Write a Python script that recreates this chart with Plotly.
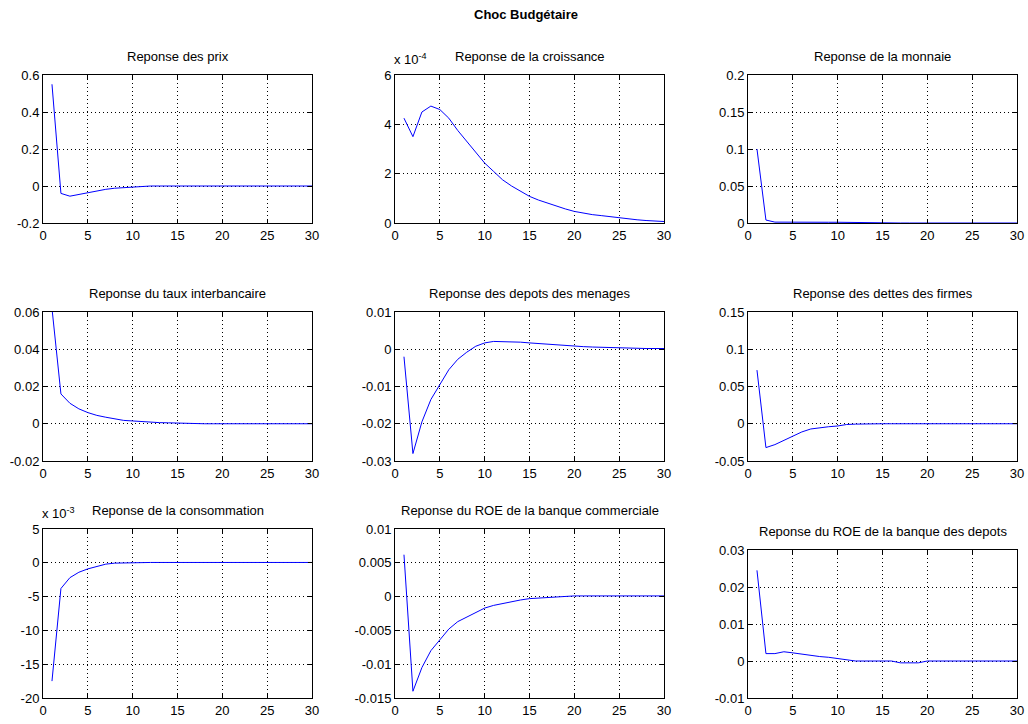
import plotly.graph_objects as go

W, H = 1028, 724

periods = list(range(1, 31))

prix = [0.55, -0.04, -0.055, -0.045, -0.035, -0.026, -0.018, -0.012, -0.008, -0.004,
        -0.001, 0, 0, 0, 0, 0, 0, 0, 0, 0, 0, 0, 0, 0, 0, 0, 0, 0, 0, 0]
croissance_e4 = [4.25, 3.5, 4.5, 4.74, 4.6, 4.25, 3.75, 3.3, 2.86, 2.43,
                 2.09, 1.75, 1.5, 1.28, 1.08, 0.93, 0.8, 0.68, 0.57, 0.47,
                 0.4, 0.34, 0.3, 0.25, 0.21, 0.17, 0.13, 0.1, 0.08, 0.06]
monnaie = [0.1, 0.004, 0.0012, 0.001, 0.001, 0.001, 0.001, 0.001, 0.001, 0.001,
           0.0008, 0.0005, 0, 0, 0, 0, 0, 0, 0, 0, 0, 0, 0, 0, 0, 0, 0, 0, 0, 0]
taux = [0.062, 0.016, 0.011, 0.008, 0.006, 0.0045, 0.0035, 0.0025, 0.0018, 0.0015,
        0.0011, 0.0009, 0.0006, 0.0005, 0.0003, 0, 0, 0, 0, 0, 0, 0, 0, 0, 0, 0, 0, 0, 0, 0]
depots_menages = [-0.002, -0.028, -0.0195, -0.0135, -0.0095, -0.0055, -0.0027, -0.0008, 0.0008, 0.0017,
                  0.0021, 0.0021, 0.002, 0.0019, 0.0017, 0.0015, 0.0013, 0.0011, 0.001, 0.0008,
                  0.0007, 0.0006, 0.0005, 0.0004, 0.0003, 0.0002, 0.0002, 0.0002, 0.0002, 0.0002]
dettes_firmes = [0.072, -0.032, -0.028, -0.022, -0.016, -0.011, -0.007, -0.005, -0.004, -0.003,
                 -0.001, -0.0005, 0, 0, 0, 0, 0, 0, 0, 0, 0, 0, 0, 0, 0, 0, 0, 0, 0, 0]
consommation_e3 = [-17.5, -3.8, -2.2, -1.4, -0.9, -0.5, -0.2, -0.05, 0, 0.05,
                   0.05, 0.05, 0.05, 0.05, 0.05, 0.05, 0.05, 0.05, 0.05, 0.05,
                   0.05, 0.05, 0.05, 0.05, 0.05, 0.05, 0.05, 0.05, 0.05, 0.05]
roe_commerciale = [0.0062, -0.014, -0.0105, -0.008, -0.0064, -0.0048, -0.0037, -0.003, -0.0023, -0.0017,
                   -0.0013, -0.001, -0.0007, -0.0005, -0.0003, -0.0002, -0.0001, 0, 0.0001, 0.0001,
                   0.0001, 0.0001, 0.0001, 0.0001, 0.0001, 0.0001, 0.0001, 0.0001, 0.0001, 0.0001]
roe_depots = [0.0245, 0.002, 0.002, 0.0025, 0.0022, 0.0018, 0.0015, 0.0012, 0.001, 0.0007,
              0.0003, 0, 0, 0, 0, 0, -0.0005, -0.0005, -0.0005, 0,
              0, 0, 0, 0, 0, 0, 0, 0, 0, 0]

titles = ["Reponse des prix", "Reponse de la croissance", "Reponse de la monnaie",
          "Reponse du taux interbancaire", "Reponse des depots des menages",
          "Reponse des dettes des firmes", "Reponse de la consommation",
          "Reponse du ROE de la banque commerciale", "Reponse du ROE de la banque des depots"]
series = [prix, croissance_e4, monnaie, taux, depots_menages, dettes_firmes,
          consommation_e3, roe_commerciale, roe_depots]

x_ticks = [0, 5, 10, 15, 20, 25, 30]
x_ticklabels = ["0", "5", "10", "15", "20", "25", "30"]
y_ticks = [
    [-0.2, 0, 0.2, 0.4, 0.6],
    [0, 2, 4, 6],
    [0, 0.05, 0.1, 0.15, 0.2],
    [-0.02, 0, 0.02, 0.04, 0.06],
    [-0.03, -0.02, -0.01, 0, 0.01],
    [-0.05, 0, 0.05, 0.1, 0.15],
    [-20, -15, -10, -5, 0, 5],
    [-0.015, -0.01, -0.005, 0, 0.005, 0.01],
    [-0.01, 0, 0.01, 0.02, 0.03],
]
y_ticklabels = [
    ["-0.2", "0", "0.2", "0.4", "0.6"],
    ["0", "2", "4", "6"],
    ["0", "0.05", "0.1", "0.15", "0.2"],
    ["-0.02", "0", "0.02", "0.04", "0.06"],
    ["-0.03", "-0.02", "-0.01", "0", "0.01"],
    ["-0.05", "0", "0.05", "0.1", "0.15"],
    ["-20", "-15", "-10", "-5", "0", "5"],
    ["-0.015", "-0.01", "-0.005", "0", "0.005", "0.01"],
    ["-0.01", "0", "0.01", "0.02", "0.03"],
]
main_title = "Choc Budgétaire"
exponents = {1: "x 10<sup>-4</sup>", 6: "x 10<sup>-3</sup>"}

# layout in window pixels
cols = [(43, 312), (395, 664), (748, 1017)]
rows_px = [[(75, 223)] * 3, [(312, 461)] * 3, [(529, 698), (529, 698), (550, 698)]]

FONT = "Liberation Sans, Arial, sans-serif"
fig = go.Figure()
annotations = []

def px2x(p):
    return p / W

def px2y(p):
    return 1 - p / H

for i in range(9):
    r, c = divmod(i, 3)
    n = i + 1
    xa = "x" if n == 1 else f"x{n}"
    ya = "y" if n == 1 else f"y{n}"
    fig.add_trace(go.Scatter(x=periods, y=series[i], mode="lines",
                             line=dict(color="#0000ff", width=1),
                             xaxis=xa, yaxis=ya, showlegend=False,
                             cliponaxis=True, hoverinfo="skip"))
    x0, x1 = cols[c]
    t, b = rows_px[r][c]
    yr = y_ticks[i]
    common = dict(showline=True, mirror="ticks", linecolor="black", linewidth=1,
                  ticks="inside", ticklen=4, tickcolor="black",
                  showgrid=True, gridcolor="black", griddash="1px,3px", gridwidth=1,
                  zeroline=False, automargin=False,
                  tickfont=dict(family=FONT, size=13, color="black"),
                  fixedrange=True)
    fig.update_layout(**{
        ("xaxis" if n == 1 else f"xaxis{n}"): dict(
            domain=[px2x(x0), px2x(x1)], anchor=ya, range=[0, 30],
            tickmode="array", tickvals=x_ticks, ticktext=x_ticklabels, **common),
        ("yaxis" if n == 1 else f"yaxis{n}"): dict(
            domain=[px2y(b), px2y(t)], anchor=xa, range=[yr[0], yr[-1]],
            tickmode="array", tickvals=yr, ticktext=y_ticklabels[i], **common),
    })
    annotations.append(dict(text=titles[i], x=px2x((x0 + x1) / 2), y=px2y(t - 9),
                            xref="paper", yref="paper", xanchor="center", yanchor="bottom",
                            showarrow=False, font=dict(family=FONT, size=13, color="black")))
    if i in exponents:
        annotations.append(dict(text=exponents[i], x=px2x(x0 - 3), y=px2y(t - 6),
                                xref="paper", yref="paper", xanchor="left", yanchor="bottom",
                                showarrow=False, font=dict(family=FONT, size=13, color="black")))

annotations.append(dict(text="<b>" + main_title + "</b>", x=px2x(526), y=px2y(15),
                        xref="paper", yref="paper", xanchor="center", yanchor="middle",
                        showarrow=False, font=dict(family=FONT, size=13, color="black")))

fig.update_layout(template="none", width=W, height=H, margin=dict(l=0, r=0, t=0, b=0),
                  paper_bgcolor="white", plot_bgcolor="white",
                  annotations=annotations)

# remove the default page margin so the figure fills the window exactly
fig.write_html("out.html", config={"displayModeBar": False},
               post_script="document.body.style.margin='0';document.body.style.overflow='hidden';")
